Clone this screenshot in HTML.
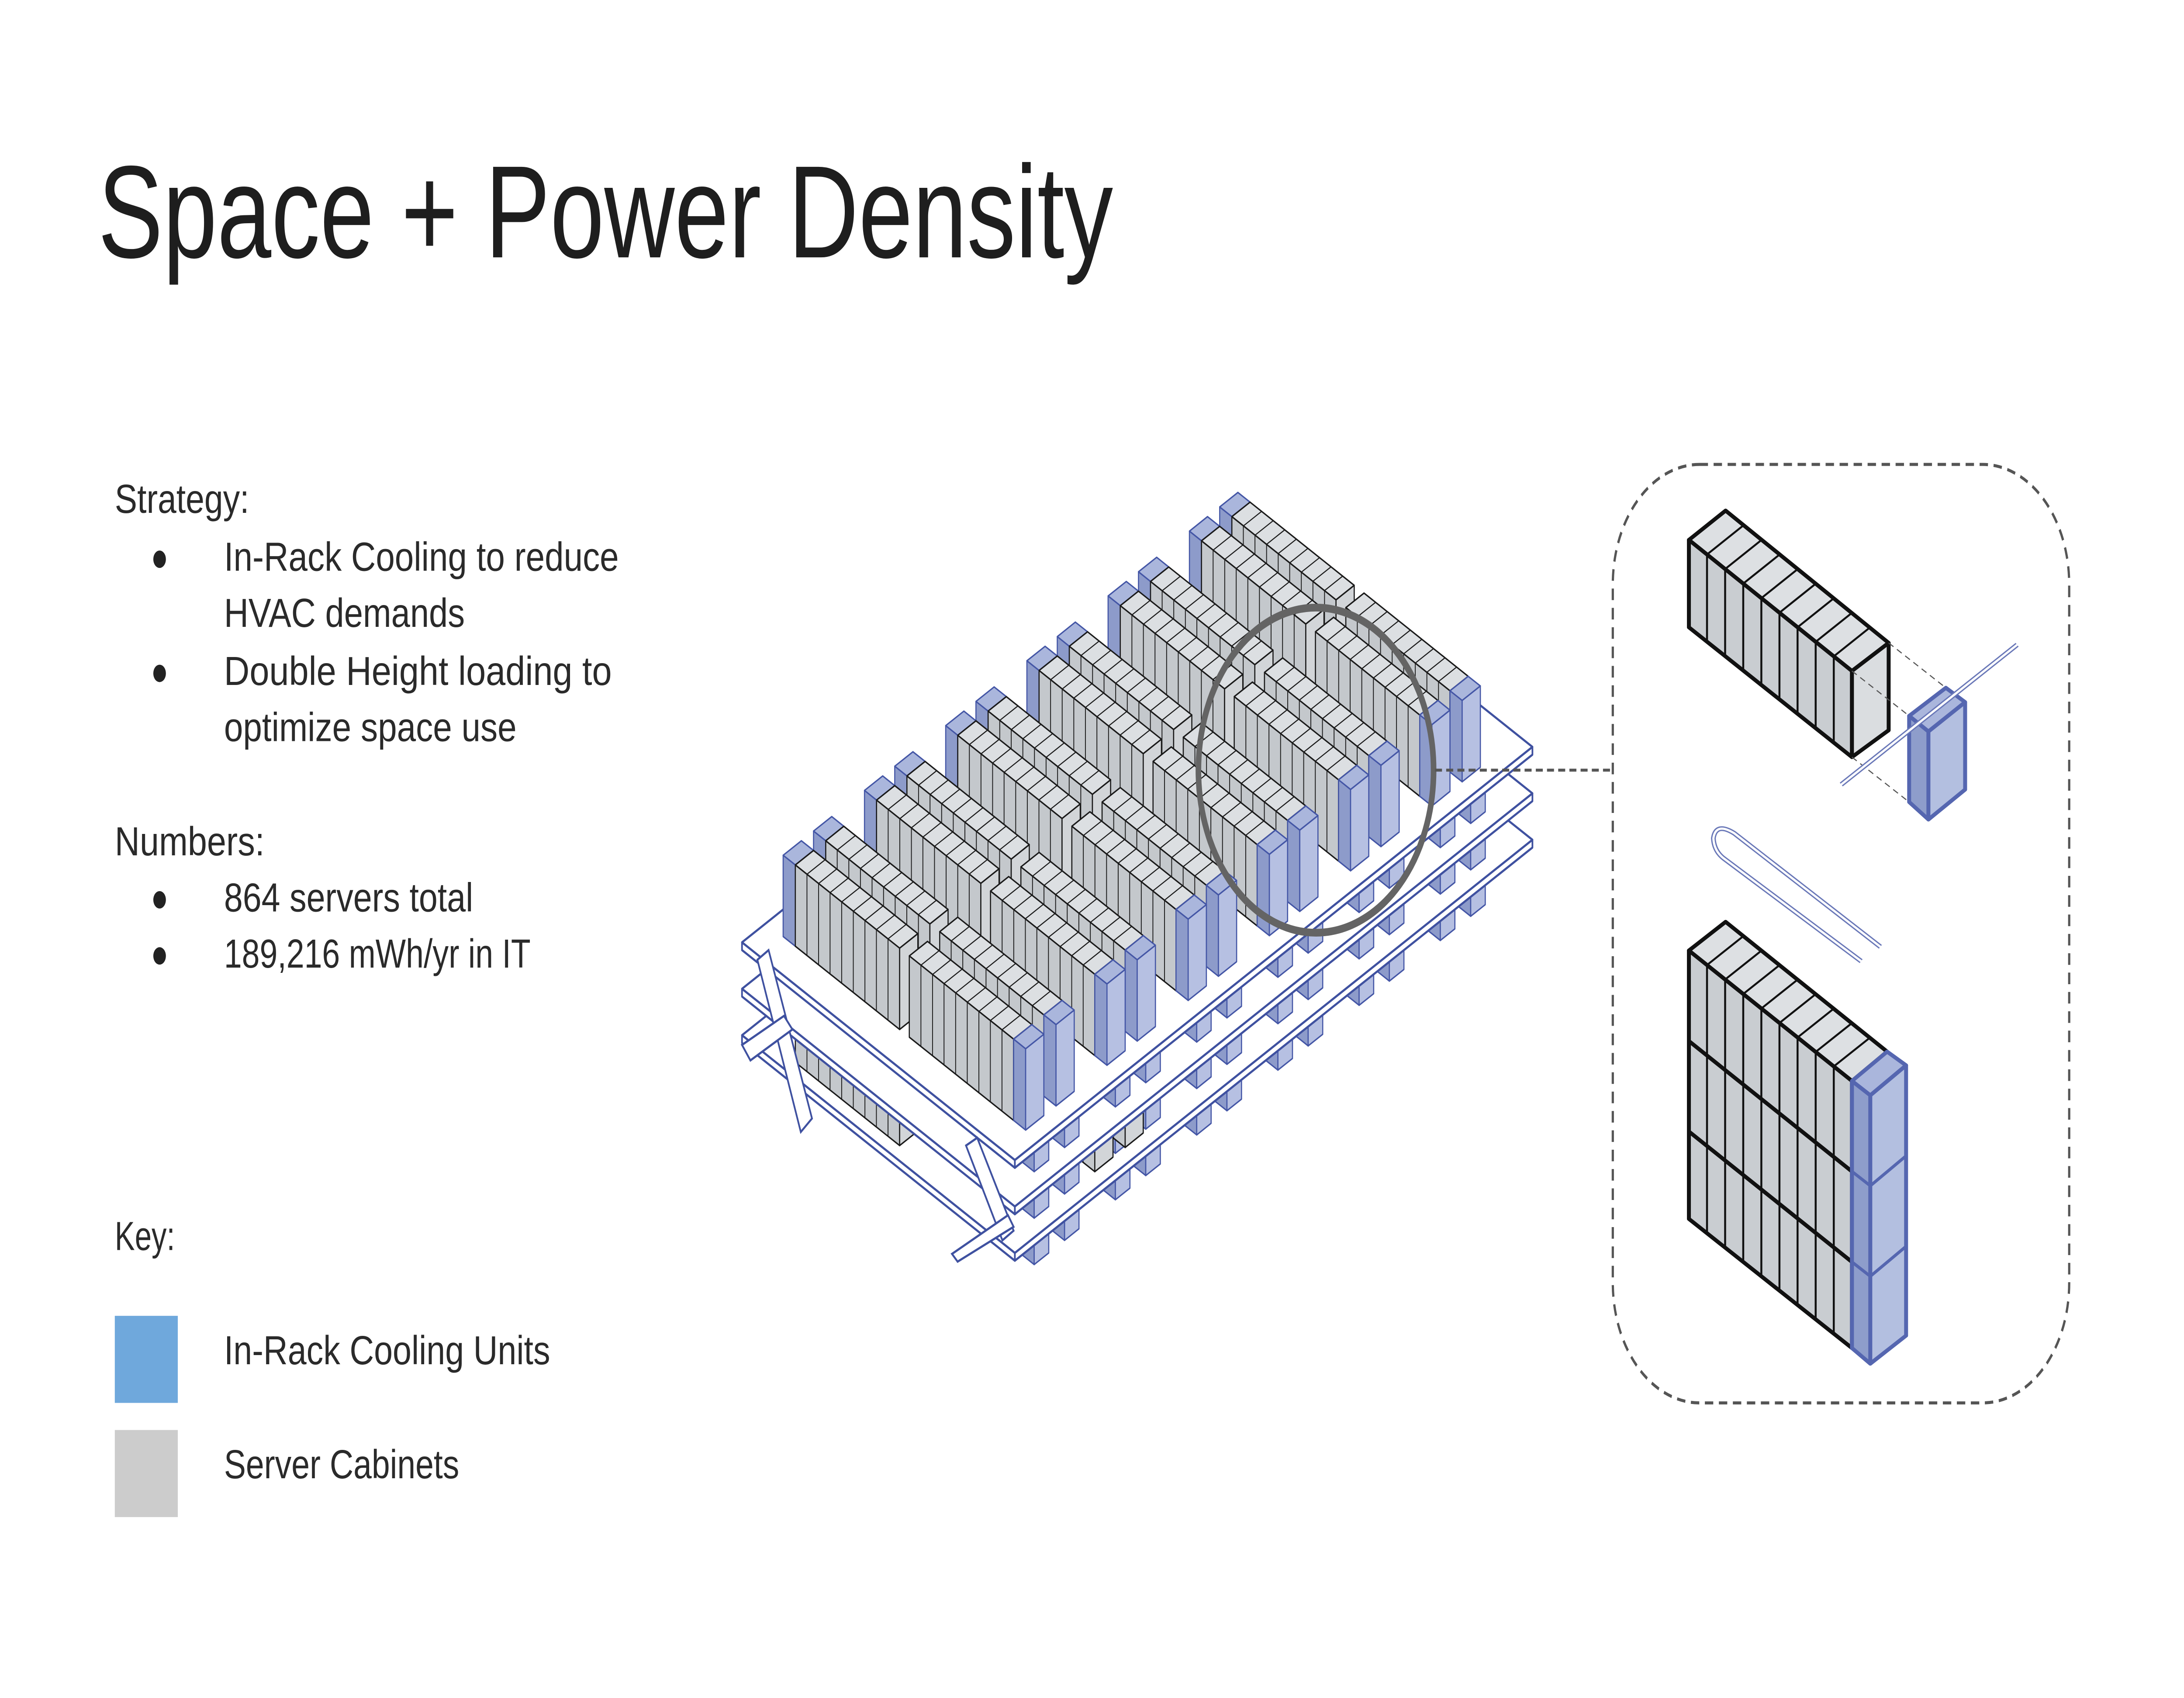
<!DOCTYPE html>
<html><head><meta charset="utf-8"><style>
html,body{margin:0;padding:0;background:#fff;width:100%;height:100%;overflow:hidden;}
svg{display:block;position:absolute;left:0;top:0;width:100vw;height:100vh;}
text{font-family:"Liberation Sans",sans-serif;fill:#2a2a2a;}
</style></head><body>
<svg id="s" xmlns="http://www.w3.org/2000/svg" viewBox="0 0 1560 877.5" preserveAspectRatio="none">
<rect width="1560" height="877.5" fill="#fff"/>
<text x="70" y="133" font-size="68" textLength="725" lengthAdjust="spacingAndGlyphs" style="fill:#1e1e1e">Space + Power Density</text>
<g font-size="21">
<text x="82" y="265" textLength="96" lengthAdjust="spacingAndGlyphs">Strategy:</text>
<text x="160" y="295" textLength="282" lengthAdjust="spacingAndGlyphs">In-Rack Cooling to reduce</text>
<text x="160" y="324" textLength="172" lengthAdjust="spacingAndGlyphs">HVAC demands</text>
<text x="160" y="354" textLength="277" lengthAdjust="spacingAndGlyphs">Double Height loading to</text>
<text x="160" y="383" textLength="209" lengthAdjust="spacingAndGlyphs">optimize space use</text>
<text x="82" y="442" textLength="107" lengthAdjust="spacingAndGlyphs">Numbers:</text>
<text x="160" y="471" textLength="178" lengthAdjust="spacingAndGlyphs">864 servers total</text>
<text x="160" y="500" textLength="219" lengthAdjust="spacingAndGlyphs">189,216 mWh/yr in IT</text>
<text x="82" y="646" textLength="43" lengthAdjust="spacingAndGlyphs">Key:</text>
<text x="160" y="705" textLength="233" lengthAdjust="spacingAndGlyphs">In-Rack Cooling Units</text>
<text x="160" y="764" textLength="168" lengthAdjust="spacingAndGlyphs">Server Cabinets</text>
</g>
<g fill="#222"><circle cx="114" cy="289" r="4.5"/><circle cx="114" cy="348" r="4.5"/><circle cx="114" cy="465" r="4.5"/><circle cx="114" cy="494" r="4.5"/></g>
<rect x="82" y="680" width="45" height="45" fill="#6fa8dc"/>
<rect x="82" y="739" width="45" height="45" fill="#cccccc"/>
<g id="main"></g>
<g fill="#fff" stroke="#3f51a0" stroke-width="1.2">
<polygon points="541,496 549,491 580,578 572,585"/>
<polygon points="530,540 560,525 566,532 536,548"/>
<polygon points="690,592 698,588 724,636 716,641"/>
<polygon points="680,648 720,628 724,634 684,652"/>
</g>
<circle cx="940" cy="398" r="84" fill="none" stroke="#646464" stroke-width="4"/>
<line x1="1025" y1="398" x2="1150" y2="398" stroke="#555" stroke-width="1.5" stroke-dasharray="5,3"/>
<rect x="1152" y="240" width="326" height="485" rx="62" fill="none" stroke="#555" stroke-width="1.6" stroke-dasharray="6,4"/>
<g transform="translate(1151.3,237.1) scale(0.2185,0.3225)">
<g stroke-linejoin="round">
<polygon points="252,130 372,83 905,295 785,340" fill="#dde0e3" stroke="#111" stroke-width="9" vector-effect="non-scaling-stroke"/>
<polygon points="252,130 785,340 785,478 252,270" fill="#c9cdd1" stroke="#111" stroke-width="9" vector-effect="non-scaling-stroke"/>
<polygon points="785,340 905,295 905,435 785,478" fill="#dadde0" stroke="#111" stroke-width="9" vector-effect="non-scaling-stroke"/>
<g id="upd" stroke="#111" stroke-width="4.5" fill="none"></g>
<g stroke="#555" stroke-width="2.5" stroke-dasharray="14,10" fill="none">
<line x1="905" y1="295" x2="1092" y2="367" vector-effect="non-scaling-stroke"/>
<line x1="785" y1="340" x2="972" y2="412" vector-effect="non-scaling-stroke"/>
<line x1="785" y1="478" x2="972" y2="550" vector-effect="non-scaling-stroke"/>
</g>
<polygon points="972,412 1092,367 1155,390 1035,437" fill="#aab6dc" stroke="#5566b0" stroke-width="9" vector-effect="non-scaling-stroke"/>
<polygon points="972,412 1035,437 1035,578 972,550" fill="#8e9dcb" stroke="#5566b0" stroke-width="9" vector-effect="non-scaling-stroke"/>
<polygon points="1035,437 1155,390 1155,530 1035,578" fill="#b3bfe0" stroke="#5566b0" stroke-width="9" vector-effect="non-scaling-stroke"/>
<path d="M750,522 L1325,298" stroke="#6a78b8" stroke-width="11" fill="none" vector-effect="non-scaling-stroke"/>
<path d="M750,522 L1325,298" stroke="#fff" stroke-width="5" fill="none" vector-effect="non-scaling-stroke"/>
<path d="M878,782 L400,600 Q340,582 332,608 Q334,628 365,640 L815,805" stroke="#6a78b8" stroke-width="11" fill="none" vector-effect="non-scaling-stroke"/>
<path d="M878,782 L400,600 Q340,582 332,608 Q334,628 365,640 L815,805" stroke="#fff" stroke-width="5" fill="none" vector-effect="non-scaling-stroke"/>
<polygon points="252,788 372,742 900,950 785,997" fill="#dde0e3" stroke="#111" stroke-width="9" vector-effect="non-scaling-stroke"/>
<polygon points="252,788 785,997 785,1425 252,1218" fill="#c9cdd1" stroke="#111" stroke-width="9" vector-effect="non-scaling-stroke"/>
<g id="lod" stroke="#111" stroke-width="4.5" fill="none"></g>
<polygon points="785,997 900,950 962,972 845,1020" fill="#aab6dc" stroke="#5566b0" stroke-width="9" vector-effect="non-scaling-stroke"/>
<polygon points="785,997 845,1020 845,1450 785,1425" fill="#8e9dcb" stroke="#5566b0" stroke-width="9" vector-effect="non-scaling-stroke"/>
<polygon points="845,1020 962,972 962,1405 845,1450" fill="#b3bfe0" stroke="#5566b0" stroke-width="9" vector-effect="non-scaling-stroke"/>
<g stroke="#5566b0" stroke-width="7" fill="none">
<polyline points="785,1142 845,1165 962,1117" vector-effect="non-scaling-stroke"/>
<polyline points="785,1287 845,1310 962,1262" vector-effect="non-scaling-stroke"/>
</g>
</g>
</g>
</svg>
<script>
(function(){
function f(p){return p[0].toFixed(1)+','+p[1].toFixed(1);}
var u='',l='';
for(var i=1;i<9;i++){var x=252+59.2*i;
 u+='<line x1="'+x+'" y1="'+(130+(x-252)*0.394)+'" x2="'+x+'" y2="'+(270+(x-252)*0.392)+'" vector-effect="non-scaling-stroke"/>';
 u+='<line x1="'+x+'" y1="'+(130+(x-252)*0.394)+'" x2="'+(x+120)+'" y2="'+(130+(x-252)*0.394-47)+'" vector-effect="non-scaling-stroke"/>';
 l+='<line x1="'+x+'" y1="'+(788+(x-252)*0.392)+'" x2="'+x+'" y2="'+(1218+(x-252)*0.39)+'" vector-effect="non-scaling-stroke"/>';
 l+='<line x1="'+x+'" y1="'+(788+(x-252)*0.392)+'" x2="'+(x+118)+'" y2="'+(788+(x-252)*0.392-46)+'" vector-effect="non-scaling-stroke"/>';
}
for(var k=1;k<3;k++){l+='<line x1="252" y1="'+(788+145*k)+'" x2="785" y2="'+(997+145*k)+'" stroke-width="9" vector-effect="non-scaling-stroke"/>';}
document.getElementById('upd').innerHTML=u;
document.getElementById('lod').innerHTML=l;

var S=[];
function P(a,b,z){return [530+0.866*(a+b),487+0.5*(b-a)-z];}
function poly(pts,fill,st,sw){S.push('<polygon points="'+pts.map(f).join(' ')+'" fill="'+fill+'" stroke="'+st+'" stroke-width="'+sw+'" stroke-linejoin="round"/>');}
function ln(p,q,st,sw){S.push('<line x1="'+p[0].toFixed(1)+'" y1="'+p[1].toFixed(1)+'" x2="'+q[0].toFixed(1)+'" y2="'+q[1].toFixed(1)+'" stroke="'+st+'" stroke-width="'+sw+'"/>');}
function box(a0,a1,b0,b1,z0,z1,c,n,sw){
 sw=sw||0.8;
 poly([P(a0,b0,z1),P(a1,b0,z1),P(a1,b1,z1),P(a0,b1,z1)],c.t,c.s,sw);
 poly([P(a0,b0,z0),P(a0,b1,z0),P(a0,b1,z1),P(a0,b0,z1)],c.f,c.s,sw);
 poly([P(a0,b1,z0),P(a1,b1,z0),P(a1,b1,z1),P(a0,b1,z1)],c.e,c.s,sw);
 if(n>1){for(var i=1;i<n;i++){var b=b0+(b1-b0)*i/n;ln(P(a0,b,z0),P(a0,b,z1),c.s,0.6);ln(P(a0,b,z1),P(a1,b,z1),c.s,0.6);}}
}
var G={t:'#dcdfe2',f:'#c4c8cc',e:'#d2d5d8',s:'#1a1a1a'};
var B={t:'#aab6dc',f:'#8d9bca',e:'#b6c0e2',s:'#4456a6'};
var W={t:'#ffffff',f:'#ffffff',e:'#ffffff',s:'#3f51a0'};
var D=15;
var pairs=[20,87,154,221,288,355];
var rows=[];pairs.forEach(function(a){rows.push(a+25);rows.push(a);});
rows.sort(function(x,y){return y-x;});
function hangBlue(sz){rows.forEach(function(a){box(a,a+12,205,221,sz-18,sz-4,B,0,0.8);});}
hangBlue(-48);
box(0,427,0,225,-52,-48,W,0,1.2);
hangBlue(-24);
[45,20].forEach(function(a){box(a,a+D,24,110,-60,-4,G,9);});
[112,87].forEach(function(a){box(a,a+D,118,204,-60,-4,G,9);});
box(0,427,0,225,-28,-24,W,0,1.2);
hangBlue(0);
box(0,427,0,225,-4,0,W,0,1.2);
var items=[];
rows.forEach(function(a){
 items.push({k:62-(a+6),d:function(){box(a,a+D,14,24,0,42,B,0);box(a,a+D,24,110,0,42,G,9);}});
 items.push({k:166-(a+6),d:function(){box(a,a+D,118,204,0,42,G,9);box(a,a+D,204,214,0,42,B,0);}});
});
items.sort(function(x,y){return x.k-y.k;});
items.forEach(function(it){it.d();});
document.getElementById('main').innerHTML=S.join('');
})();
</script>
</body></html>
